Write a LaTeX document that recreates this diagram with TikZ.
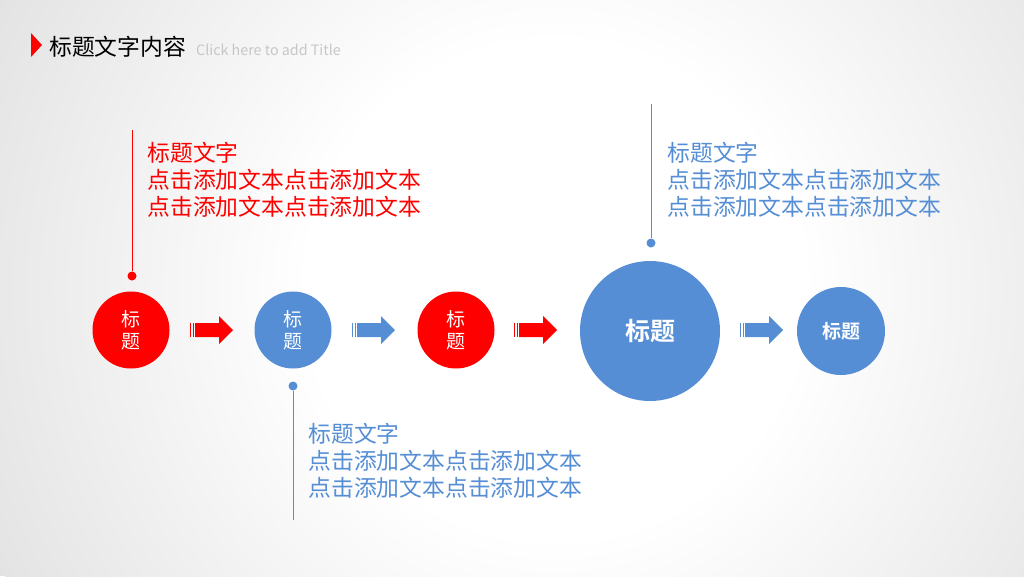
\documentclass[tikz,border=0pt]{standalone}
\usepackage{fontspec}
\setmainfont{Noto Sans CJK SC}[BoldFont={Noto Sans CJK SC Bold}]
\usepackage{xcolor}
\usepackage{tikz}

\definecolor{pptred}{HTML}{FF0000}
\definecolor{pptblue}{HTML}{558ED5}
\definecolor{bggray}{HTML}{E2E2E2}

\pgfdeclareradialshading{bgglow}{\pgfpoint{0bp}{0bp}}{color(0bp)=(white); color(10bp)=(white); color(26bp)=(bggray); color(50bp)=(bggray)}

\tikzset{
  bubble/.style={circle, fill=#1, text=white, inner sep=0pt, align=center,
    font=\fontsize{19}{22}\selectfont},
  pin/.style={circle, fill=#1, inner sep=0pt, minimum size=9pt},
  stalk/.style={draw=#1, line width=0.9pt},
  blurb/.style={anchor=west, align=left, text=#1,
    font=\fontsize{22.8}{27}\selectfont}
}

% striped block arrow: #1 = left x, #2 = colour
\newcommand{\stripearrow}[2]{%
  \fill[#2] (#1,323) rectangle ++(1.4,14);
  \fill[#2] ({#1+2.6},323) rectangle ++(1.4,14);
  \fill[#2] ({#1+5},323) -- ({#1+29},323) -- ({#1+29},316) -- ({#1+43},330)
    -- ({#1+29},344) -- ({#1+29},337) -- ({#1+5},337) -- cycle;}

\begin{document}
\begin{tikzpicture}[x=1pt,y=-1pt]
      % background
      \useasboundingbox (0,0) rectangle (1024,576);
      \begin{scope}
          \clip (0,0) rectangle (1024,576);
          \fill[bggray] (0,0) rectangle (1024,576);
          \shade[shading=bgglow] (555,290) circle (620);
      \end{scope}

      % Title
      \fill[pptred] (31,33) -- (42,45) -- (31,57) -- cycle;
      \node[anchor=west, inner sep=0pt, font=\fontsize{22.8}{26}\selectfont] (title) at (49,47) {标题文字内容};
      \node[anchor=west, inner sep=0pt, text=black!22, font=\fontsize{14.3}{16}\selectfont] (subtitle) at (196,50) {Click here to add Title};

      % Steps
      \node[bubble=pptred, minimum size=77pt] (c1) at (131,330) {标\\题};
      \node[bubble=pptblue, minimum size=77pt] (c2) at (293,330) {标\\题};
      \node[bubble=pptred, minimum size=77pt] (c3) at (456,330) {标\\题};
      \node[bubble=pptblue, minimum size=140pt, font=\fontsize{25}{28}\selectfont\bfseries] (c4) at (650,331) {标题};
      \node[bubble=pptblue, minimum size=88pt, font=\fontsize{19}{22}\selectfont\bfseries] (c5) at (841,331) {标题};

      % Arrows
      \stripearrow{190}{pptred}
      \stripearrow{352}{pptblue}
      \stripearrow{514}{pptred}
      \stripearrow{740}{pptblue}

      % Pins and stalks
      \node[pin=pptred] (d1) at (132,276) {};
      \coordinate (e1) at (132,130);
      \draw[stalk=pptred] (d1) -- (e1);

      \node[pin=pptblue] (d2) at (293,386) {};
      \coordinate (e2) at (293,520);
      \draw[stalk=pptblue] (d2) -- (e2);

      \node[pin=pptblue] (d3) at (651,243) {};
      \coordinate (e3) at (651,104);
      \draw[stalk=pptblue] (d3) -- (e3);

      % Text blocks
      \node[blurb=pptred] (t1) at (144,180) {标题文字\\点击添加文本点击添加文本\\点击添加文本点击添加文本};
      \node[blurb=pptblue] (t2) at (305,461) {标题文字\\点击添加文本点击添加文本\\点击添加文本点击添加文本};
      \node[blurb=pptblue] (t3) at (664,180) {标题文字\\点击添加文本点击添加文本\\点击添加文本点击添加文本};

  \end{tikzpicture}
\end{document}
